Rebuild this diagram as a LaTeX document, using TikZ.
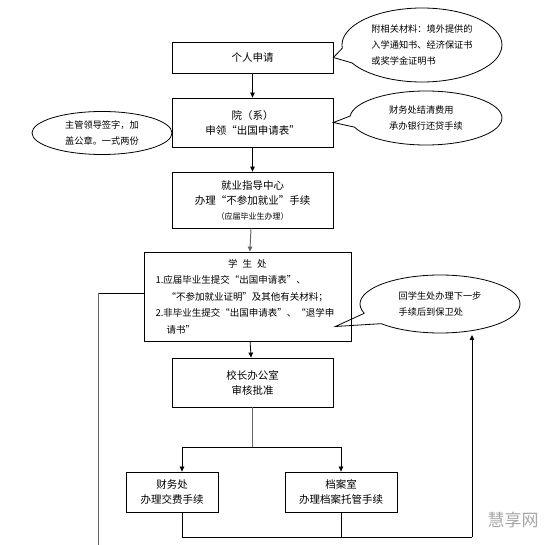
\documentclass[tikz,border=0pt]{standalone}
\usepackage{fontspec}
\setmainfont{Noto Sans CJK SC}
\usetikzlibrary{shapes.callouts,shapes.geometric,arrows.meta,calc}
\begin{document}
\begin{tikzpicture}[x=1pt,y=-1pt,
  box/.style={draw,line width=0.8pt,align=center,inner sep=0pt,font=\fontsize{10.5}{15}\selectfont},
  bubble/.style={ellipse callout,draw,line width=0.8pt,inner sep=0pt,align=left,font=\fontsize{9.2}{16}\selectfont,callout pointer arc=24},
  oval/.style={ellipse,draw,line width=0.8pt,inner sep=0pt,align=left,font=\fontsize{9.2}{15.5}\selectfont},
  arr/.style={-{Triangle[length=5pt,width=4.5pt]},line width=0.8pt},
  ln/.style={line width=0.8pt},
  gln/.style={line width=1pt,draw=black!60}]

\path[use as bounding box] (0,0) rectangle (558,545);

% boxes
\node[box,minimum width=161pt,minimum height=31pt] (b1) at (252.5,57.5) {个人申请};
\node[box,minimum width=161pt,minimum height=49pt] (b2) at (252.5,122.5) {院（系）\\申领“出国申请表”};
\node[box,minimum width=161pt,minimum height=56pt] (b3) at (252.5,200) {就业指导中心\\办理“不参加就业”手续\\{\fontsize{8}{12}\selectfont（应届毕业生办理）}};
\node[box,minimum width=207pt,minimum height=89pt,text width=184pt,align=left,font=\fontsize{9.5}{16.5}\selectfont] (b4) at (247.5,296.5)
  {\makebox[\linewidth]{学\hspace{5pt}生\hspace{5pt}处}\\
   1.应届毕业生提交“出国申请表”、\\
   \hspace*{11pt}“不参加就业证明”及其他有关材料；\\
   2.非毕业生提交“出国申请表”、“退学申\\
   \hspace*{11pt}请书”};
\node[box,minimum width=161pt,minimum height=49pt] (b5) at (252.5,382.5) {校长办公室\\审核批准};
\node[box,minimum width=92pt,minimum height=40pt] (b6) at (172,492) {财务处\\办理交费手续};
\node[box,minimum width=112pt,minimum height=40pt] (b7) at (341,492) {档案室\\办理档案托管手续};

% callouts
\node[bubble,minimum width=160pt,minimum height=74pt,callout absolute pointer={(b1.east)}] (e1) at (422,45)
  {附相关材料：境外提供的\\入学通知书、经济保证书\\或奖学金证明书};
\node[oval,minimum width=140pt,minimum height=43pt] (e2) at (102,133)
  {主管领导签字，加\\盖公章。一式两份};
\node[bubble,minimum width=152pt,minimum height=54pt,callout absolute pointer={(b2.east)}] (e3) at (426,118)
  {财务处结清费用\\承办银行还贷手续};
\node[bubble,minimum width=160pt,minimum height=58pt,callout absolute pointer={($(b4.east)+(-16,30)$)}] (e4) at (440,304)
  {回学生处办理下一步\\手续后到保卫处};

% main flow
\draw[arr] (b1) -- (b2);
\draw[arr] (b2) -- (b3);
\draw[arr,gln] (b3) -- (b4);
\draw[arr] (b4) -- (b5);

% branch
\coordinate (br) at (252.5,447);
\coordinate (brL) at (182,447);
\coordinate (brR) at (341,447);
\draw[gln] (b5.south) -- (br);
\draw[ln] (brL) -- (brR);
\draw[arr] (brL) -- (brL |- b6.north);
\draw[arr] (brR) -- (b7.north);

% return line
\coordinate (botL) at (182,537);
\coordinate (botR) at (472,537);
\coordinate (rtop) at (472,335);
\draw[ln] (brL |- b6.south) -- (botL) -- (botR);
\draw[ln] (b7.south) -- (b7.south |- botR);
\draw[arr] (botR) -- (rtop);

% left line
\coordinate (lc) at (98,293);
\coordinate (lend) at (98,545);
\draw[ln] (b4.west |- lc) -- (lc);
\draw[gln] (lc) -- (lend);

% watermark
\node[text=black!35,font=\fontsize{17}{17}\selectfont,inner sep=0pt] (wm) at (513,520) {慧享网};
\end{tikzpicture}
\end{document}
